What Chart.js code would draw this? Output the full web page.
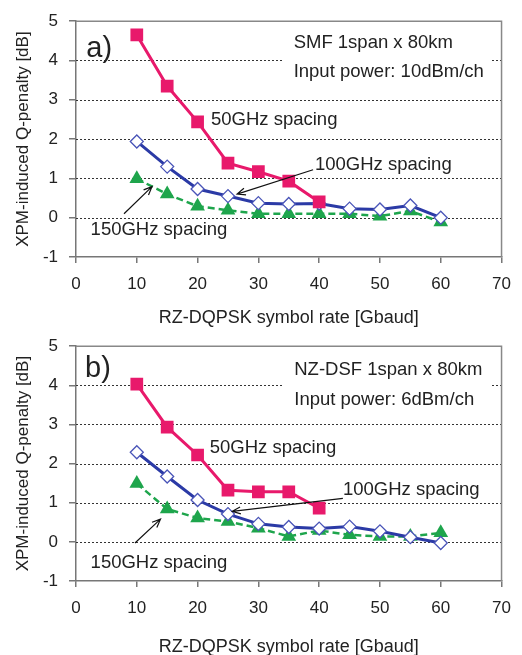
<!DOCTYPE html>
<html>
<head>
<meta charset="utf-8">
<script src="https://cdn.jsdelivr.net/npm/chart.js@4.4.0/dist/chart.umd.min.js"></script>
<style>
  body { margin: 0; background: #fff; }
  #wrap { position: relative; width: 522px; height: 655px; }
  canvas { position: absolute; left: 0; }
  #top { top: 0; }
  #bottom { top: 325px; }
</style>
</head>
<body>
<div id="wrap">
  <canvas id="top" width="522" height="330"></canvas>
  <canvas id="bottom" width="522" height="330"></canvas>
</div>
<script>
"use strict";

// symbol rates [Gbaud]
const rates = [10, 15, 20, 25, 30, 35, 40, 45, 50, 55, 60];
const xTicks = [0, 10, 20, 30, 40, 50, 60, 70];
const yTicks = [-1, 0, 1, 2, 3, 4, 5];

// a) SMF 1span x 80km, 10dBm/ch
const smf50 = [4.65, 3.35, 2.44, 1.39, 1.17, 0.93, 0.40];
const smf100 = [1.94, 1.30, 0.73, 0.55, 0.37, 0.35, 0.36, 0.23, 0.21, 0.31, 0.0];
const smf150 = [0.99, 0.60, 0.29, 0.19, 0.10, 0.10, 0.10, 0.10, 0.04, 0.17, -0.11];

// b) NZ-DSF 1span x 80km, 6dBm/ch
const nzd50 = [4.03, 2.93, 2.22, 1.32, 1.28, 1.28, 0.86];
const nzd100 = [2.29, 1.67, 1.07, 0.71, 0.46, 0.38, 0.34, 0.39, 0.27, 0.12, -0.03];
const nzd150 = [1.49, 0.84, 0.61, 0.52, 0.35, 0.14, 0.29, 0.18, 0.14, 0.14, 0.23];

const FONT = "'Liberation Sans', Arial, sans-serif";
const PINK = "#e8196b";
const BLUE = "#2b3aa6";
const GREEN = "#1ea54c";

function toPoints(values) {
    return values.map((v, i) => ({ x: rates[i], y: v }));
}

// extra drawing: frame, dotted grid, text boxes, labels, arrows
const decorPlugin = {
    id: "decor",
    beforeDatasetsDraw(chart, args, opts) {
        const ctx = chart.ctx;
        const area = chart.chartArea;
        const x = chart.scales.x;
        const y = chart.scales.y;
        ctx.save();
        ctx.strokeStyle = "#333";
        ctx.lineWidth = 1;
        ctx.setLineDash([2, 2]);
        for (let v = 0; v <= 4; v++) {
            const py = Math.round(y.getPixelForValue(v)) + 0.5;
            ctx.beginPath();
            ctx.moveTo(area.left, py);
            ctx.lineTo(area.right, py);
            ctx.stroke();
        }
        ctx.setLineDash([]);
        // white box behind the fibre info
        const b = opts.box;
        const bx1 = x.getPixelForValue(b[0]);
        const bx2 = x.getPixelForValue(b[1]);
        const by1 = y.getPixelForValue(b[2]);
        const by2 = y.getPixelForValue(b[3]);
        ctx.fillStyle = "#fff";
        ctx.fillRect(bx1, by1, bx2 - bx1, by2 - by1);
        // top and right frame
        ctx.strokeStyle = "#888";
        ctx.lineWidth = 1.5;
        ctx.beginPath();
        ctx.moveTo(area.left, area.top);
        ctx.lineTo(area.right, area.top);
        ctx.lineTo(area.right, area.bottom);
        ctx.stroke();
        ctx.restore();
    },
    afterDatasetsDraw(chart, args, opts) {
        const ctx = chart.ctx;
        const x = chart.scales.x;
        const y = chart.scales.y;
        ctx.save();
        ctx.fillStyle = "#222";
        ctx.textBaseline = "middle";
        ctx.textAlign = "left";
        opts.labels.forEach((l) => {
            ctx.font = (l.size || 18.5) + "px " + FONT;
            ctx.fillText(l.text, x.getPixelForValue(l.x), y.getPixelForValue(l.y));
        });
        ctx.strokeStyle = "#111";
        ctx.lineWidth = 1.2;
        opts.arrows.forEach((a) => {
            const x1 = x.getPixelForValue(a[0]);
            const y1 = y.getPixelForValue(a[1]);
            const x2 = x.getPixelForValue(a[2]);
            const y2 = y.getPixelForValue(a[3]);
            const ang = Math.atan2(y2 - y1, x2 - x1);
            ctx.beginPath();
            ctx.moveTo(x1, y1);
            ctx.lineTo(x2, y2);
            ctx.moveTo(x2 - 9 * Math.cos(ang - 0.4), y2 - 9 * Math.sin(ang - 0.4));
            ctx.lineTo(x2, y2);
            ctx.lineTo(x2 - 9 * Math.cos(ang + 0.4), y2 - 9 * Math.sin(ang + 0.4));
            ctx.stroke();
        });
        ctx.restore();
    }
};

function makeChart(canvasId, d50, d100, d150, decor, pad) {
    return new Chart(document.getElementById(canvasId), {
        type: "line",
        data: {
            datasets: [
                {
                    label: "50GHz spacing",
                    data: toPoints(d50),
                    borderColor: PINK,
                    backgroundColor: PINK,
                    borderWidth: 3,
                    pointStyle: "rect",
                    pointRadius: 9,
                    pointBorderWidth: 0
                },
                {
                    label: "100GHz spacing",
                    data: toPoints(d100),
                    borderColor: BLUE,
                    backgroundColor: "#fff",
                    borderWidth: 3,
                    pointStyle: "rectRot",
                    pointRadius: 6.5,
                    pointBorderWidth: 1.3,
                    pointBorderColor: "#4a55b8"
                },
                {
                    label: "150GHz spacing",
                    data: toPoints(d150),
                    borderColor: GREEN,
                    backgroundColor: GREEN,
                    borderWidth: 2.5,
                    borderDash: [7, 4],
                    pointStyle: "triangle",
                    pointRadius: 8.5,
                    pointBorderWidth: 0
                }
            ]
        },
        options: {
            responsive: false,
            animation: false,
            events: [],
            layout: { padding: { left: 0, right: 13, top: pad.top, bottom: 0 } },
            plugins: {
                legend: { display: false },
                tooltip: { enabled: false },
                decor: decor
            },
            scales: {
                x: {
                    type: "linear",
                    min: 0,
                    max: 70,
                    afterBuildTicks: (s) => { s.ticks = xTicks.map((v) => ({ value: v })); },
                    afterFit: (s) => { s.height = pad.xHeight; },
                    grid: { drawOnChartArea: false, tickLength: 6, color: "#777", lineWidth: 1.5 },
                    border: { color: "#777", width: 1.5 },
                    ticks: { padding: 11, color: "#222", font: { family: FONT, size: 17 } },
                    title: {
                        display: true,
                        text: "RZ-DQPSK symbol rate [Gbaud]",
                        color: "#222",
                        font: { family: FONT, size: 18 },
                        padding: { top: 0, bottom: pad.titleBottom }
                    }
                },
                y: {
                    min: -1,
                    max: 5,
                    afterBuildTicks: (s) => { s.ticks = yTicks.map((v) => ({ value: v })); },
                    afterFit: (s) => { s.width = 76; },
                    grid: { drawOnChartArea: false, tickLength: 7, color: "#777", lineWidth: 1.5 },
                    border: { color: "#777", width: 1.5 },
                    ticks: { padding: 11, color: "#222", font: { family: FONT, size: 17 } },
                    title: {
                        display: true,
                        text: "XPM-induced Q-penalty [dB]",
                        color: "#222",
                        font: { family: FONT, size: 17 },
                        padding: { top: 13, bottom: 0 }
                    }
                }
            }
        },
        plugins: [decorPlugin]
    });
}

makeChart("top", smf50, smf100, smf150, {
    box: [34.1, 68.1, 4.85, 3.35],
    labels: [
        { text: "a)", x: 1.7, y: 4.3, size: 29 },
        { text: "SMF 1span x 80km", x: 35.8, y: 4.44 },
        { text: "Input power: 10dBm/ch", x: 35.8, y: 3.7 },
        { text: "50GHz spacing", x: 22.2, y: 2.48 },
        { text: "100GHz spacing", x: 39.3, y: 1.34 },
        { text: "150GHz spacing", x: 2.4, y: -0.32 }
    ],
    arrows: [
        [39.0, 1.22, 26.5, 0.60],
        [7.9, 0.10, 12.5, 0.79]
    ]
}, { top: 15, xHeight: 73, titleBottom: 1 });

makeChart("bottom", nzd50, nzd100, nzd150, {
    box: [34.1, 68.1, 4.85, 3.3],
    labels: [
        { text: "b)", x: 1.5, y: 4.42, size: 29 },
        { text: "NZ-DSF 1span x 80km", x: 35.9, y: 4.4 },
        { text: "Input power: 6dBm/ch", x: 35.9, y: 3.64 },
        { text: "50GHz spacing", x: 22.0, y: 2.39 },
        { text: "100GHz spacing", x: 43.9, y: 1.33 },
        { text: "150GHz spacing", x: 2.4, y: -0.53 }
    ],
    arrows: [
        [43.9, 1.11, 25.7, 0.78],
        [9.7, -0.03, 13.9, 0.58]
    ]
}, { top: 17, xHeight: 74, titleBottom: -3 });
</script>
</body>
</html>
